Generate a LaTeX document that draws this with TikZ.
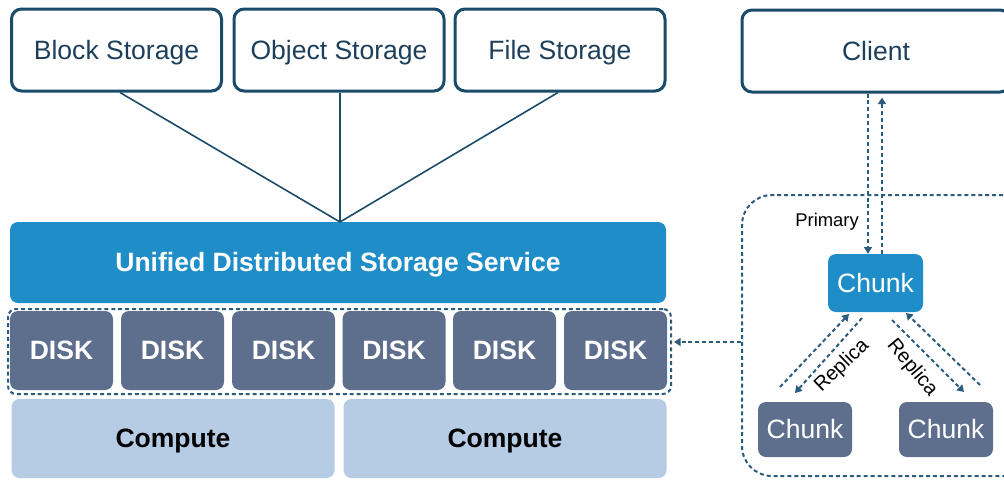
\documentclass[tikz,border=0pt]{standalone}
\usepackage{fontspec}
\setmainfont{Liberation Sans}
\usetikzlibrary{arrows.meta,calc}
\definecolor{navy}{HTML}{1B4B6B}
\definecolor{navytext}{HTML}{1D3F5C}
\definecolor{servblue}{HTML}{1E8DC8}
\definecolor{diskgray}{HTML}{5E6F8D}
\definecolor{computeblue}{HTML}{B6CCE4}
\definecolor{dashcol}{HTML}{2A5C7E}
\newcommand{\bigtxt}{\fontsize{19.9}{23}\selectfont}
\newcommand{\smalltxt}{\fontsize{13.8}{16}\selectfont}
\newcommand{\replicatxt}{\fontsize{15}{17}\selectfont}
\begin{document}
\begin{tikzpicture}[x=0.75pt,y=-0.75pt,
  captext/.style={text height=14.2pt, text depth=0pt},
  topbox/.style={draw=navy, line width=2.25pt, rounded corners=7.5pt, fill=white,
    text=navytext, inner sep=0pt, minimum width=157.5pt, minimum height=61.5pt,
    font=\bigtxt, captext},
  servbox/.style={fill=servblue, rounded corners=6pt, text=white, inner sep=0pt,
    font=\bigtxt\bfseries, captext},
  diskbox/.style={fill=diskgray, rounded corners=6pt, text=white, inner sep=0pt,
    minimum width=77.25pt, minimum height=59.25pt, font=\bigtxt\bfseries, captext},
  compbox/.style={fill=computeblue, rounded corners=6pt, text=black, inner sep=0pt,
    minimum width=242.25pt, minimum height=59.25pt, font=\bigtxt\bfseries, captext},
  chunkbox/.style={rounded corners=6pt, text=white, inner sep=0pt, font=\bigtxt, captext},
  dashline/.style={draw=dashcol, line width=1.5pt, dash pattern=on 3pt off 2.2pt},
  tip/.style={-{Triangle[width=6pt,length=5pt]}},
  link/.style={draw=navy, line width=1.2pt}
]
\useasboundingbox (0,0) rectangle (1004,479);
\clip (0,0) rectangle (1004,479);

% storage front-ends
\node[topbox] (block)  at (116.5,50) {Block Storage};
\node[topbox] (object) at (339,50)   {Object Storage};
\node[topbox] (file)   at (560,50)   {File Storage};

% unified service layer
\node[servbox, minimum width=492pt, minimum height=60.75pt] (unified) at (338,262.5)
  {Unified Distributed Storage Service};
\coordinate (hub) at (340,222);
\draw[link] (block.south -| 120,0) -- (hub);
\draw[link] (object.south -| 340,0) -- (hub);
\draw[link] (file.south -| 558,0) -- (hub);

% disk row
\node[dashline, rounded corners=6pt, minimum width=497.25pt, minimum height=63.75pt] (diskrow) at (339.5,351.5) {};
\foreach \i/\x in {1/61.5,2/172.5,3/283.5,4/394,5/504.5,6/615.5}
  \node[diskbox] (disk\i) at (\x,350.5) {DISK};

% compute row
\node[compbox] (comp1) at (173,438.5) {Compute};
\node[compbox] (comp2) at (505,438.5) {Compute};

% client and chunk replication group
\node[topbox, minimum width=201pt] (client) at (876,51) {Client};
\node[dashline, rounded corners=22.5pt, minimum width=223.5pt, minimum height=210.75pt] (cluster) at (891,335.5) {};
\node[chunkbox, fill=servblue, minimum width=71.25pt, minimum height=43.5pt] (primary) at (875.5,283) {Chunk};
\node[chunkbox, fill=diskgray, minimum width=70.5pt, minimum height=41.25pt] (replA) at (805,429.5) {Chunk};
\node[chunkbox, fill=diskgray, minimum width=70.5pt, minimum height=41.25pt] (replB) at (946,429.5) {Chunk};

% client <-> primary chunk
\coordinate (pdown) at (868,0);
\coordinate (pup) at (882,0);
\draw[dashline, tip] (pdown |- client.south) -- (pdown |- primary.north);
\draw[dashline, tip] (pup |- primary.north) -- ([yshift=-3pt]pup |- client.south);
\node[font=\smalltxt, text=black, anchor=east, inner sep=0pt] (plabel) at (859,222) {Primary};

% replication group -> disks
\coordinate (ay) at (0,342);
\draw[dashline, tip] (cluster.west |- ay) -- ([xshift=1.5pt]diskrow.east |- ay);

% replica traffic
\coordinate (la1) at (780,387);
\coordinate (la2) at (849,314);
\coordinate (lb1) at (862,318);
\coordinate (lb2) at (795,393);
\coordinate (rc1) at (892,320);
\coordinate (rc2) at (964,392);
\coordinate (rd1) at (980,385);
\coordinate (rd2) at (906,313);
\draw[dashline, tip] (la1) -- (la2);
\draw[dashline, tip] (lb1) -- (lb2);
\draw[dashline, tip] (rc1) -- (rc2);
\draw[dashline, tip] (rd1) -- (rd2);
\node[font=\replicatxt, rotate=44, inner sep=0pt] (rlabA) at (842,366) {Replica};
\node[font=\replicatxt, rotate=-50, inner sep=0pt] (rlabB) at (912,368) {Replica};
\end{tikzpicture}
\end{document}
